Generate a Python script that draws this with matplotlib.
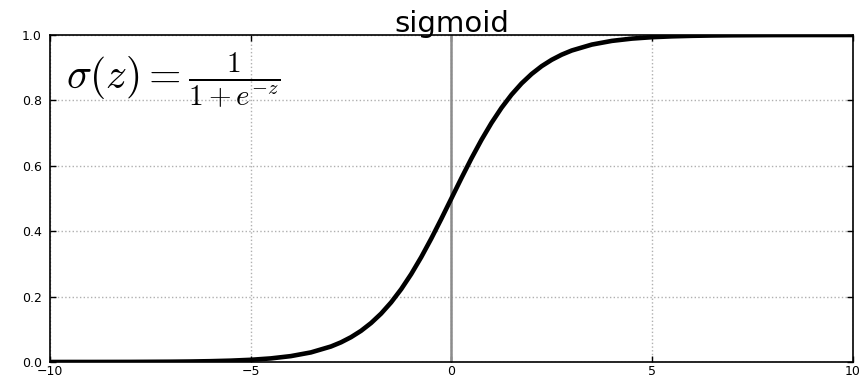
import matplotlib
matplotlib.use("Agg")
import matplotlib.pyplot as plt

# Values
z_vals = [-10, -9.5, -9, -8.5, -8, -7.5, -7, -6.5, -6, -5.5, -5, -4.5, -4, -3.5,
          -3, -2.75, -2.5, -2.25, -2, -1.75, -1.5, -1.25, -1, -0.75, -0.5, -0.25,
          0, 0.25, 0.5, 0.75, 1, 1.25, 1.5, 1.75, 2, 2.25, 2.5, 2.75, 3,
          3.5, 4, 4.5, 5, 5.5, 6, 6.5, 7, 7.5, 8, 8.5, 9, 9.5, 10]
sigma_vals = [0.0000, 0.0001, 0.0001, 0.0002, 0.0003, 0.0006, 0.0009, 0.0015, 0.0025,
              0.0041, 0.0067, 0.0110, 0.0180, 0.0293,
              0.0474, 0.0601, 0.0759, 0.0953, 0.1192, 0.1480, 0.1824, 0.2227, 0.2689,
              0.3208, 0.3775, 0.4378,
              0.5000, 0.5622, 0.6225, 0.6792, 0.7311, 0.7773, 0.8176, 0.8520, 0.8808,
              0.9047, 0.9241, 0.9399, 0.9526,
              0.9707, 0.9820, 0.9890, 0.9933, 0.9959, 0.9975, 0.9985, 0.9991, 0.9994,
              0.9997, 0.9998, 0.9999, 0.9999, 1.0000]
x_ticks = [-10, -5, 0, 5, 10]
y_ticks = [0.0, 0.2, 0.4, 0.6, 0.8, 1.0]
title_text = "sigmoid"
formula_text = r"$\sigma(z) = \frac{1}{1 + e^{-z}}$"

plt.rcParams["mathtext.fontset"] = "cm"

fig = plt.figure(figsize=(8.59, 3.79), dpi=100)
ax = fig.add_axes([50 / 859, 1 - 362 / 379, (852.7 - 50) / 859, (362 - 35) / 379])

ax.axvline(0.0, color="#8c8c8c", linewidth=1.8, zorder=1)
ax.plot(z_vals, sigma_vals, color="black", linewidth=3.3, zorder=3)

ax.set_xlim(-10, 10)
ax.set_ylim(0, 1)
ax.set_xticks(x_ticks)
ax.set_yticks(y_ticks)
ax.set_xticklabels([("\u2212" if t < 0 else "") + str(abs(t)) for t in x_ticks])
ax.set_yticklabels(["%.1f" % t for t in y_ticks])
ax.tick_params(direction="in", length=4, width=1, top=True, right=True,
               labelsize=9)
ax.tick_params(axis="x", pad=2)
ax.tick_params(axis="y", pad=6)
ax.grid(True, linestyle=":", color="#b0b0b0", linewidth=1.0)
ax.set_axisbelow(True)
for sp in ax.spines.values():
    sp.set_linewidth(1.2)
    sp.set_color("black")

ax.set_title(title_text, fontsize=21, pad=2)
ax.text(-9.6, 0.865, formula_text, fontsize=30, va="center", ha="left")

fig.savefig("out.png", dpi=100)
